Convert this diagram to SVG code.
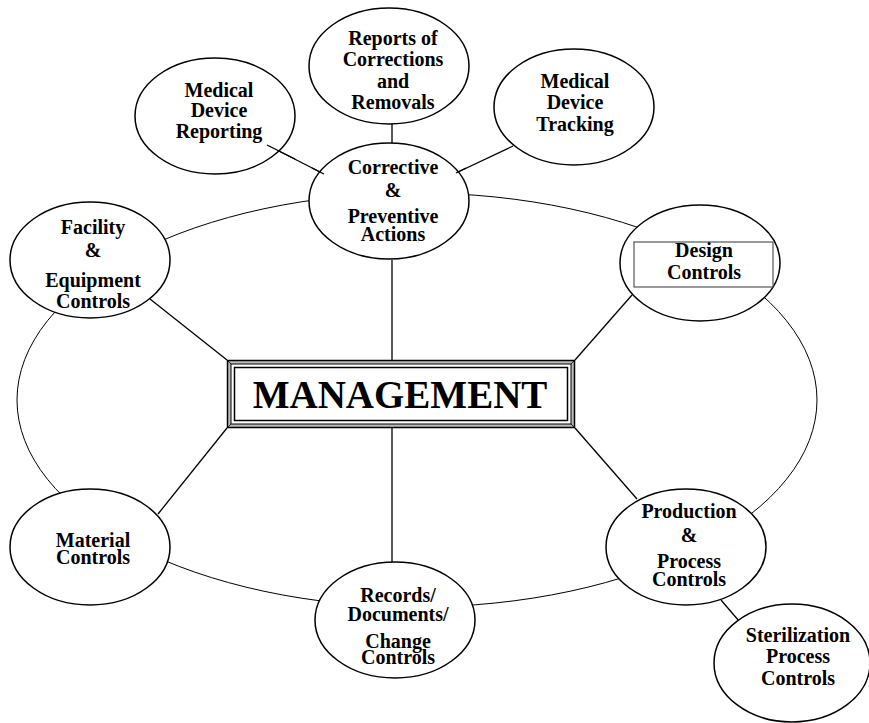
<svg xmlns="http://www.w3.org/2000/svg" width="869" height="723" viewBox="0 0 869 723">
  <style>
    .node { fill: #ffffff; stroke: #000000; stroke-width: 1.5; }
    .ring { fill: none; stroke: #000000; stroke-width: 1; }
    .link { fill: none; stroke: #000000; stroke-width: 1.3; }
    .lbl { font-family: "Liberation Serif", "Times New Roman", serif; font-weight: bold; font-size: 20px; text-anchor: middle; fill: #000000; }
    .title { font-family: "Liberation Serif", "Times New Roman", serif; font-weight: bold; font-size: 39px; text-anchor: middle; fill: #000000; }
  </style>
  <rect x="0" y="0" width="869" height="723" fill="#ffffff"/>

  <!-- outer ring linking the quality subsystems -->
  <ellipse class="ring" cx="417" cy="400" rx="400" ry="207"/>

  <!-- connectors -->
  <g id="connectors">
    <line class="link" x1="392" y1="124" x2="392" y2="143"/>
    <line class="link" x1="267" y1="145" x2="324" y2="174"/>
    <line class="link" x1="513" y1="146" x2="456" y2="173"/>
    <line class="link" x1="392" y1="260" x2="392" y2="360"/>
    <line class="link" x1="392" y1="428" x2="392" y2="562"/>
    <line class="link" x1="150" y1="299" x2="227" y2="360"/>
    <line class="link" x1="158" y1="514" x2="227" y2="428"/>
    <line class="link" x1="632" y1="295" x2="575" y2="360"/>
    <line class="link" x1="637" y1="499" x2="575" y2="428"/>
    <line class="link" x1="721" y1="600" x2="739" y2="621"/>
  </g>

  <g id="reporting">
    <ellipse class="node" cx="215" cy="116" rx="80" ry="58"/>
    <text class="lbl"><tspan x="219" y="96.5">Medical</tspan><tspan x="219" y="117">Device</tspan><tspan x="219" y="138">Reporting</tspan></text>
  </g>
  <line class="link" x1="267" y1="145" x2="295" y2="159"/>

  <g id="corrections">
    <ellipse class="node" cx="389" cy="66" rx="80" ry="58"/>
    <text class="lbl"><tspan x="393" y="45">Reports of</tspan><tspan x="393" y="66">Corrections</tspan><tspan x="393" y="88">and</tspan><tspan x="393" y="109">Removals</tspan></text>
  </g>

  <g id="tracking">
    <ellipse class="node" cx="574" cy="107" rx="80" ry="58"/>
    <text class="lbl"><tspan x="575" y="88">Medical</tspan><tspan x="575" y="109">Device</tspan><tspan x="575" y="131">Tracking</tspan></text>
  </g>

  <g id="capa">
    <ellipse class="node" cx="389" cy="201" rx="80" ry="58"/>
    <text class="lbl"><tspan x="393" y="174">Corrective</tspan><tspan x="393" y="197">&amp;</tspan><tspan x="393" y="223">Preventive</tspan><tspan x="393" y="241">Actions</tspan></text>
  </g>
  <line class="link" x1="312" y1="168" x2="324" y2="174"/>
  <line class="link" x1="466" y1="168" x2="456" y2="173"/>

  <g id="facility">
    <ellipse class="node" cx="90" cy="260" rx="80" ry="58"/>
    <text class="lbl"><tspan x="93" y="234">Facility</tspan><tspan x="93" y="257">&amp;</tspan><tspan x="93" y="287">Equipment</tspan><tspan x="93" y="308">Controls</tspan></text>
  </g>

  <g id="design">
    <ellipse class="node" cx="700" cy="263" rx="80" ry="58"/>
    <rect x="634" y="242" width="139" height="45" fill="none" stroke="#555555" stroke-width="1.2"/>
    <text class="lbl"><tspan x="704" y="257">Design</tspan><tspan x="704" y="279">Controls</tspan></text>
  </g>

  <g id="material">
    <ellipse class="node" cx="90" cy="547" rx="80" ry="58"/>
    <text class="lbl"><tspan x="93" y="547">Material</tspan><tspan x="93" y="564">Controls</tspan></text>
  </g>

  <g id="records">
    <ellipse class="node" cx="395" cy="620" rx="80" ry="58"/>
    <text class="lbl"><tspan x="398" y="602">Records/</tspan><tspan x="398" y="621">Documents/</tspan><tspan x="398" y="648">Change</tspan><tspan x="398" y="664">Controls</tspan></text>
  </g>

  <g id="production">
    <ellipse class="node" cx="686" cy="547" rx="80" ry="58"/>
    <text class="lbl"><tspan x="689" y="518">Production</tspan><tspan x="689" y="542">&amp;</tspan><tspan x="689" y="568">Process</tspan><tspan x="689" y="586">Controls</tspan></text>
  </g>

  <g id="sterilization">
    <ellipse class="node" cx="792" cy="663" rx="78" ry="59"/>
    <text class="lbl"><tspan x="798" y="642">Sterilization</tspan><tspan x="798" y="663">Process</tspan><tspan x="798" y="685">Controls</tspan></text>
  </g>

  <!-- central framed title -->
  <g id="management">
    <rect x="227.5" y="360.5" width="347" height="67" fill="#bbbbbb" stroke="#000000" stroke-width="1.5"/>
    <rect x="231" y="364" width="340" height="60" fill="#ffffff" stroke="#000000" stroke-width="1"/>
    <rect x="234.5" y="367.5" width="333" height="53" fill="#ffffff" stroke="#000000" stroke-width="1.5"/>
    <line x1="227.5" y1="360.5" x2="231" y2="364" stroke="#000" stroke-width="0.8"/>
    <line x1="574.5" y1="360.5" x2="571" y2="364" stroke="#000" stroke-width="0.8"/>
    <line x1="227.5" y1="427.5" x2="231" y2="424" stroke="#000" stroke-width="0.8"/>
    <line x1="574.5" y1="427.5" x2="571" y2="424" stroke="#000" stroke-width="0.8"/>
    <text class="title" x="400" y="408">MANAGEMENT</text>
  </g>
</svg>
